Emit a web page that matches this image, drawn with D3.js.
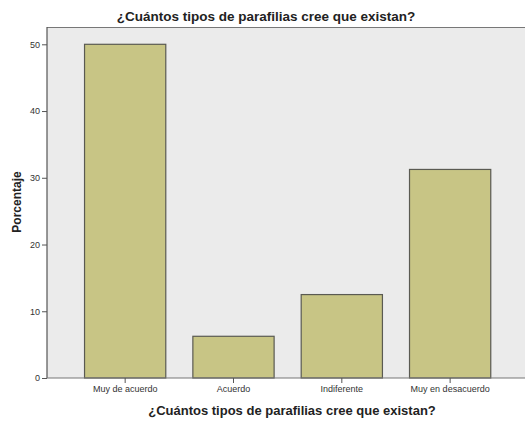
<!DOCTYPE html>
<html><head><meta charset="utf-8">
<script src="https://cdn.jsdelivr.net/npm/d3@7"></script>
<style>body{margin:0;background:#fff;}svg{display:block;font-family:"Liberation Sans",Arial,sans-serif;}</style>
</head><body>
<script>
const categories = ["Muy de acuerdo", "Acuerdo", "Indiferente", "Muy en desacuerdo"];
const values = [50, 6.25, 12.5, 31.25];
const yTicks = [0, 10, 20, 30, 40, 50];
const title = "¿Cuántos tipos de parafilias cree que existan?";
const xTitle = "¿Cuántos tipos de parafilias cree que existan?";
const yTitle = "Porcentaje";

const W = 525, H = 421;
const L = 47, T = 27, R = 525, B = 378;
const svg = d3.select("body").append("svg").attr("width", W).attr("height", H);

svg.append("rect").attr("x", L).attr("y", T).attr("width", R - L).attr("height", B - T).attr("fill", "#EBEBEB");

const x = d3.scaleBand().domain(categories).range([71, 504.3]).paddingInner(0.25).paddingOuter(0.125);
const y = d3.scaleLinear().domain([0, 50]).range([B, 44.3]);

svg.selectAll("rect.bar").data(values).join("rect").attr("class", "bar")
  .attr("x", (d, i) => x(categories[i]))
  .attr("y", d => y(d))
  .attr("width", x.bandwidth())
  .attr("height", d => y(0) - y(d))
  .attr("fill", "#C8C585").attr("stroke", "#5a5a52").attr("stroke-width", 1.2);

svg.append("line").attr("x1", L).attr("x2", R).attr("y1", T + 0.5).attr("y2", T + 0.5).attr("stroke", "#777").attr("stroke-width", 1.2);

const yAxis = svg.append("g").attr("transform", `translate(${L},0)`)
  .call(d3.axisLeft(y).tickValues(yTicks).tickSize(5).tickPadding(2).tickSizeOuter(0));
yAxis.select(".domain").attr("d", `M0,${T}V${B}`).attr("stroke", "#555").attr("stroke-width", 1.2);
yAxis.selectAll(".tick line").attr("stroke", "#555");
yAxis.selectAll(".tick text").attr("fill", "#333").style("font-size", "9px").style("font-family", "Liberation Sans, Arial, sans-serif");

const xAxis = svg.append("g").attr("transform", `translate(0,${B})`)
  .call(d3.axisBottom(x).tickSize(5).tickPadding(3).tickSizeOuter(0));
xAxis.select(".domain").attr("d", `M${L},0H${R}`).attr("stroke", "#777").attr("stroke-width", 1.2);
xAxis.selectAll(".tick line").attr("stroke", "#555");
xAxis.selectAll(".tick text").attr("fill", "#333").style("font-size", "9px").style("font-family", "Liberation Sans, Arial, sans-serif");

svg.append("text").attr("x", 266).attr("y", 21).attr("text-anchor", "middle")
  .style("font-size", "13.5px").style("font-weight", "bold").attr("fill", "#222").text(title);
svg.append("text").attr("x", 292).attr("y", 415).attr("text-anchor", "middle")
  .style("font-size", "13px").style("font-weight", "bold").attr("fill", "#222").text(xTitle);
svg.append("text").attr("transform", "translate(21,202) rotate(-90)").attr("text-anchor", "middle")
  .style("font-size", "12px").style("font-weight", "bold").attr("fill", "#222").text(yTitle);
</script>
</body></html>
